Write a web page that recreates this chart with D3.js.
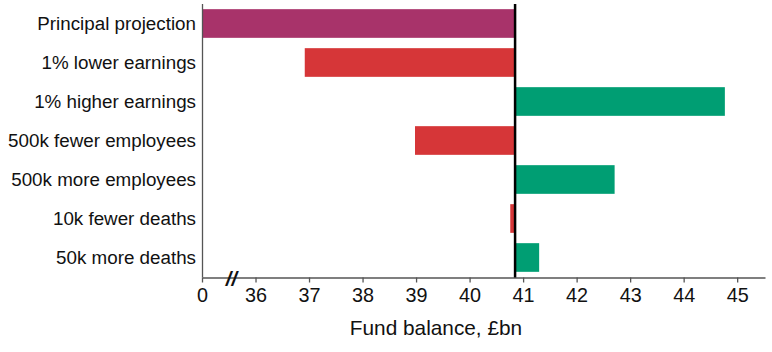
<!DOCTYPE html>
<html>
<head>
<meta charset="utf-8">
<script src="https://cdn.jsdelivr.net/npm/d3@7"></script>
<style>
  body { margin: 0; background: #fff; }
  text { font-family: "Liberation Sans", Arial, sans-serif; fill: #111; }
</style>
</head>
<body>
<div id="chart"></div>
<script>
// scenarios, top to bottom
var scenarios = ["Principal projection", "1% lower earnings", "1% higher earnings",
                 "500k fewer employees", "500k more employees", "10k fewer deaths", "50k more deaths"];
// fund balance for each scenario, £bn
var balances = [40.85, 36.92, 44.77, 38.98, 42.71, 40.76, 41.30];
var kinds = ["base", "down", "up", "down", "up", "down", "up"];
var baseline = 40.85;
var tickValues = [35, 36, 37, 38, 39, 40, 41, 42, 43, 44, 45];
var tickLabels = ["0", "36", "37", "38", "39", "40", "41", "42", "43", "44", "45"];

var colours = { base: "#A8336A", down: "#D63638", up: "#009E73" };

var width = 772, height = 352;
var margin = { top: 4, right: 7, bottom: 75, left: 202 };

var svg = d3.select("#chart").append("svg")
    .attr("width", width)
    .attr("height", height);

// axis is broken: the "0" sits where 35 would be
var x = d3.scaleLinear().domain([35, 45.52]).range([margin.left, width - margin.right]);
var y = d3.scaleBand().domain(scenarios)
    .range([margin.top, height - margin.bottom])
    .paddingInner(0.265).paddingOuter(0.1325);

var rows = svg.append("g").selectAll(".bar")
    .data(scenarios)
    .enter();

rows.append("rect")
    .attr("x", function(d, i) { return kinds[i] == "base" ? x(35) : x(Math.min(balances[i], baseline)); })
    .attr("y", function(d) { return y(d); })
    .attr("width", function(d, i) {
        if (kinds[i] == "base") return x(baseline) - x(35);
        return Math.abs(x(balances[i]) - x(baseline));
    })
    .attr("height", y.bandwidth())
    .style("fill", function(d, i) { return colours[kinds[i]]; });

rows.append("text")
    .attr("x", margin.left - 6)
    .attr("y", function(d) { return y(d) + y.bandwidth() / 2; })
    .attr("dy", "0.35em")
    .attr("text-anchor", "end")
    .style("font-size", "18.8px")
    .text(function(d) { return d; });

// x axis
var axisY = height - margin.bottom + 0.5;
var xAxis = svg.append("g")
    .attr("transform", "translate(0," + axisY + ")")
    .call(d3.axisBottom(x).tickValues(tickValues)
        .tickFormat(function(d, i) { return tickLabels[i]; })
        .tickSize(5).tickSizeOuter(0));
xAxis.select(".domain").attr("stroke", "#555").attr("stroke-width", 1.3);
xAxis.selectAll(".tick line").attr("stroke", "#555").attr("stroke-width", 1.3);
xAxis.selectAll(".tick text")
    .attr("y", 10)
    .style("font-size", "19.8px")
    .style("font-family", "'Liberation Sans', Arial, sans-serif")
    .attr("fill", "#111");

// y axis line
svg.append("line")
    .attr("x1", margin.left + 0.5).attr("x2", margin.left + 0.5)
    .attr("y1", margin.top).attr("y2", axisY)
    .attr("stroke", "#555").attr("stroke-width", 1.3);

// axis break mark
svg.append("text")
    .attr("x", x(35.55))
    .attr("y", axisY + 8)
    .attr("text-anchor", "middle")
    .style("font-size", "20px")
    .style("font-style", "italic")
    .style("font-weight", "bold")
    .text("//");

// baseline at principal projection
svg.append("line")
    .attr("x1", x(baseline)).attr("x2", x(baseline))
    .attr("y1", margin.top).attr("y2", axisY)
    .attr("stroke", "#000").attr("stroke-width", 2.5);

svg.append("text")
    .attr("x", 436)
    .attr("y", 335)
    .attr("text-anchor", "middle")
    .style("font-size", "20.8px")
    .text("Fund balance, £bn");
</script>
</body>
</html>
